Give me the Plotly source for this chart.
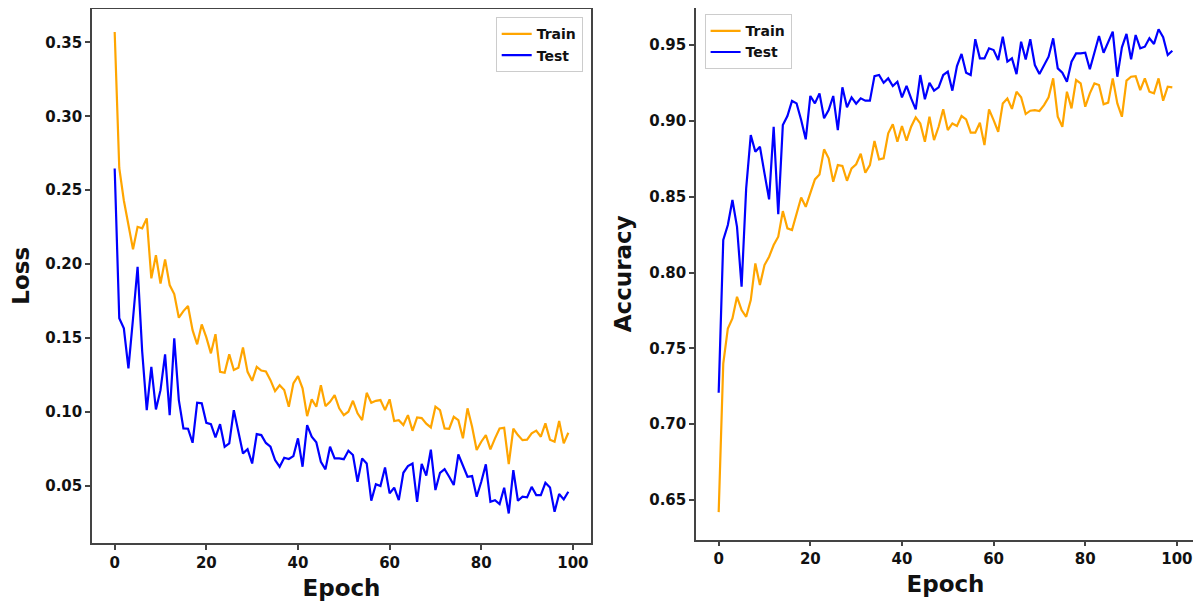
import plotly.graph_objects as go

epochs = list(range(100))

loss_train = [0.357, 0.265, 0.243, 0.2275, 0.210, 0.2252, 0.2242, 0.2309, 0.1903, 0.206,
              0.1868, 0.2032, 0.1858, 0.1797, 0.1637, 0.1682, 0.1716, 0.1553, 0.1457, 0.1592,
              0.1504, 0.1396, 0.1526, 0.1271, 0.1265, 0.1389, 0.1283, 0.1298, 0.1436, 0.1271,
              0.121, 0.1305, 0.1280, 0.1273, 0.1215, 0.114, 0.118, 0.1148, 0.1035, 0.1193,
              0.1242, 0.1159, 0.0971, 0.1085, 0.1035, 0.118, 0.1039, 0.1068, 0.1114, 0.1024,
              0.0978, 0.1001, 0.1075, 0.099, 0.0944, 0.1129, 0.1062, 0.1075, 0.1080, 0.1012,
              0.1085, 0.0938, 0.0944, 0.0911, 0.0978, 0.0872, 0.0963, 0.0958, 0.0920, 0.0895,
              0.1035, 0.1012, 0.0888, 0.0886, 0.0967, 0.0944, 0.0821, 0.1024, 0.0899, 0.0742,
              0.0798, 0.0843, 0.0746, 0.0821, 0.0888, 0.0892, 0.0647, 0.0886, 0.0843, 0.0809,
              0.0812, 0.0855, 0.0873, 0.0832, 0.0922, 0.0812, 0.0798, 0.0938, 0.0787, 0.0859]

loss_test = [0.2647, 0.1633, 0.1565, 0.1294, 0.163, 0.1982, 0.141, 0.1012, 0.1305, 0.1017,
             0.1147, 0.1389, 0.0978, 0.1497, 0.108, 0.0888, 0.0886, 0.0791, 0.1062, 0.1058,
             0.0926, 0.0917, 0.0827, 0.0917, 0.0764, 0.0787, 0.1012, 0.0872, 0.0719, 0.0748,
             0.0651, 0.085, 0.0843, 0.0790, 0.0764, 0.0674, 0.0629, 0.0690, 0.0681, 0.0701,
             0.0821, 0.0629, 0.0911, 0.0832, 0.0794, 0.0662, 0.0611, 0.0764, 0.0685, 0.0685,
             0.068, 0.0737, 0.0708, 0.0527, 0.0685, 0.0651, 0.0399, 0.0511, 0.0498, 0.0624,
             0.0449, 0.0487, 0.0403, 0.0588, 0.0633, 0.0651, 0.0392, 0.0648, 0.0569, 0.0744,
             0.0471, 0.0588, 0.0613, 0.0561, 0.0505, 0.0712, 0.064, 0.0561, 0.0566, 0.0426,
             0.0527, 0.0645, 0.0392, 0.0403, 0.0376, 0.0487, 0.0313, 0.0606, 0.0399, 0.0426,
             0.0422, 0.0493, 0.0437, 0.0437, 0.0520, 0.0489, 0.0324, 0.0444, 0.0408, 0.0460]

acc_train = [0.642, 0.740, 0.7631, 0.7697, 0.784, 0.7752, 0.7708, 0.7818, 0.806, 0.7917,
             0.8049, 0.8104, 0.8181, 0.8236, 0.8405, 0.8291, 0.828, 0.839, 0.8495, 0.8433,
             0.8522, 0.8614, 0.8647, 0.8812, 0.8753, 0.8598, 0.8708, 0.8702, 0.8605, 0.8687,
             0.8714, 0.8783, 0.8658, 0.8708, 0.8867, 0.8746, 0.8753, 0.8918, 0.8977, 0.8862,
             0.8966, 0.8869, 0.8961, 0.9023, 0.8983, 0.8862, 0.9027, 0.8873, 0.8961, 0.9076,
             0.8939, 0.8983, 0.8966, 0.9032, 0.901, 0.8922, 0.8922, 0.8987, 0.884, 0.9076,
             0.9005, 0.8928, 0.9115, 0.9148, 0.9079, 0.9192, 0.9155, 0.9045, 0.9067, 0.9071,
             0.9065, 0.9104, 0.9155, 0.928, 0.9027, 0.8961, 0.9192, 0.9082, 0.9269, 0.9247,
             0.9093, 0.9181, 0.9247, 0.9236, 0.9109, 0.912, 0.928, 0.9115, 0.9027, 0.9265,
             0.9291, 0.9295, 0.9203, 0.928, 0.9192, 0.9181, 0.928, 0.9133, 0.9225, 0.9221]

acc_test = [0.7207, 0.8214, 0.8313, 0.8478, 0.8301, 0.7906, 0.8555, 0.8906, 0.8796, 0.8829,
            0.8654, 0.8482, 0.8961, 0.8385, 0.8972, 0.9032, 0.9131, 0.9115, 0.9005, 0.8878,
            0.9164, 0.9115, 0.9181, 0.9017, 0.9071, 0.9164, 0.8939, 0.9221, 0.9089, 0.9155,
            0.9113, 0.9148, 0.9133, 0.9133, 0.9295, 0.9302, 0.9251, 0.928, 0.923, 0.9258,
            0.9155, 0.923, 0.9148, 0.9076, 0.9302, 0.9142, 0.9251, 0.9199, 0.9221, 0.9302,
            0.9324, 0.9199, 0.9361, 0.9441, 0.9317, 0.9302, 0.9538, 0.9412, 0.9412, 0.9478,
            0.9467, 0.9401, 0.9555, 0.939, 0.9412, 0.9308, 0.9522, 0.9405, 0.9538, 0.9368,
            0.9309, 0.9368, 0.9423, 0.9544, 0.9346, 0.9317, 0.9258, 0.939, 0.9445, 0.9445,
            0.9449, 0.934, 0.9445, 0.9559, 0.9449, 0.9522, 0.9588, 0.9291, 0.9485, 0.9573,
            0.9405, 0.9566, 0.9478, 0.9489, 0.9544, 0.9507, 0.9604, 0.9551, 0.9434, 0.9462]

x_ticks = [0, 20, 40, 60, 80, 100]
loss_ticks = [0.05, 0.10, 0.15, 0.20, 0.25, 0.30, 0.35]
acc_ticks = [0.65, 0.70, 0.75, 0.80, 0.85, 0.90, 0.95]

ORANGE = "#FFA500"
BLUE = "#0000FF"
FONT = "DejaVu Sans"
W, H = 1201, 601
OFF = 8  # page body margin offsets the figure by this many pixels

fig = go.Figure()
fig.add_trace(go.Scatter(x=epochs, y=loss_train, mode="lines", name="Train",
                         line=dict(color=ORANGE, width=2.2), xaxis="x", yaxis="y", legend="legend"))
fig.add_trace(go.Scatter(x=epochs, y=loss_test, mode="lines", name="Test",
                         line=dict(color=BLUE, width=2.2), xaxis="x", yaxis="y", legend="legend"))
fig.add_trace(go.Scatter(x=epochs, y=acc_train, mode="lines", name="Train",
                         line=dict(color=ORANGE, width=2.2), xaxis="x2", yaxis="y2", legend="legend2"))
fig.add_trace(go.Scatter(x=epochs, y=acc_test, mode="lines", name="Test",
                         line=dict(color=BLUE, width=2.2), xaxis="x2", yaxis="y2", legend="legend2"))

tickfont = dict(family=FONT, size=15, color="#111111", weight="bold")
titlefont = dict(family=FONT, size=23, color="#111111", weight="bold")
axis_common = dict(showline=True, linecolor="#444444", linewidth=1.5, mirror=True,
                   ticks="outside", ticklen=5, tickwidth=1.5, tickcolor="#444444",
                   showgrid=False, zeroline=False, tickfont=tickfont, automargin=False)

def px(x):
    return min(max((x - OFF) / W, 0.0), 1.0)

def py(y):
    return min(max(1 - (y - OFF) / H, 0.0), 1.0)

def xd(a, b):
    return [px(a), px(b)]

def yd(top, bottom):
    return [py(bottom), py(top)]

fig.update_layout(
    template="none",
    width=W, height=H,
    margin=dict(l=0, r=0, t=0, b=0, autoexpand=False),
    paper_bgcolor="white", plot_bgcolor="white",
    xaxis=dict(domain=xd(92, 591), range=[-4.95, 103.95], tickvals=x_ticks, anchor="y",
               title=dict(text="Epoch", font=titlefont, standoff=9), **axis_common),
    yaxis=dict(domain=yd(8.5, 543), range=[0.0113, 0.3729], tickvals=loss_ticks,
               tickformat=".2f", anchor="x",
               title=dict(text="Loss", font=titlefont, standoff=10), **axis_common),
    xaxis2=dict(domain=xd(696, 1195), range=[-4.95, 103.95], tickvals=x_ticks, anchor="y2",
                title=dict(text="Epoch", font=titlefont, standoff=9), **axis_common),
    yaxis2=dict(domain=yd(8, 539.6), range=[0.6239, 0.9744], tickvals=acc_ticks,
                tickformat=".2f", anchor="x2",
                title=dict(text="Accuracy", font=titlefont, standoff=11), **axis_common),
    legend=dict(x=px(582.7), y=py(17.3), xanchor="right", yanchor="top",
                bgcolor="rgba(255,255,255,0.8)", bordercolor="#cccccc", borderwidth=1,
                font=dict(family=FONT, size=14, color="#111111", weight="bold")),
    legend2=dict(x=px(704.6), y=py(14.2), xanchor="left", yanchor="top",
                 bgcolor="rgba(255,255,255,0.8)", bordercolor="#cccccc", borderwidth=1,
                 font=dict(family=FONT, size=14, color="#111111", weight="bold")),
    showlegend=True,
)

fig.write_html("out.html")
